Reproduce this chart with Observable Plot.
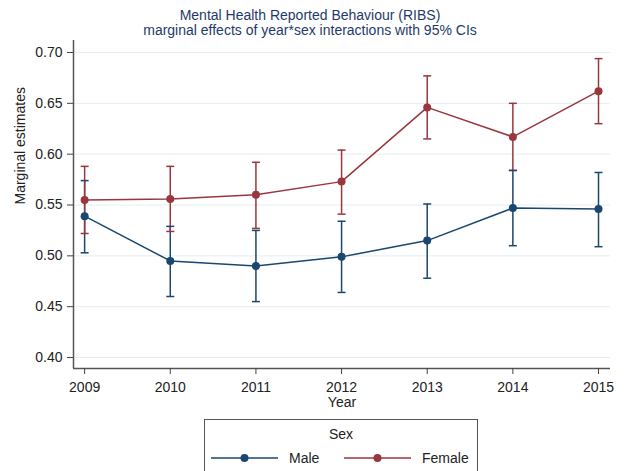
<!DOCTYPE html>
<html>
<head>
<meta charset="utf-8">
<script src="https://cdn.jsdelivr.net/npm/d3@7"></script>
<script src="https://cdn.jsdelivr.net/npm/@observablehq/plot@0.6"></script>
<style>
  html, body { margin: 0; padding: 0; background: #fff; }
  body { width: 628px; height: 471px; position: relative; overflow: hidden;
         font-family: "Liberation Sans", Arial, sans-serif; }
  #title { position: absolute; left: 0; top: 8px; width: 620px; text-align: center;
           color: #1f3a68; font-size: 14px; line-height: 15px; }
  #chart { position: absolute; left: 0; top: 40px; }
  #legend { position: absolute; left: 204px; top: 419px; width: 274px; height: 70px;
            border: 1px solid #555; box-sizing: border-box; color: #222; font-size: 14px; }
  #legend .ttl { position: absolute; left: 0; width: 100%; top: 6px; text-align: center; }
  #legend .item { position: absolute; top: 30px; display: flex; align-items: center; }
  #legend .item span { margin-left: 11px; }
</style>
</head>
<body>
<div id="title">Mental Health Reported Behaviour (RIBS)<br>marginal effects of year*sex interactions with 95% CIs</div>
<div id="chart"></div>
<div id="legend"></div>
<script>
const years = [2009, 2010, 2011, 2012, 2013, 2014, 2015];
const sexes = ["Male", "Female"];
const sexColors = ["#1a476f", "#9a363d"];

const maleEst = [0.539, 0.495, 0.490, 0.499, 0.515, 0.547, 0.546];
const maleLo  = [0.503, 0.460, 0.455, 0.464, 0.478, 0.510, 0.509];
const maleHi  = [0.574, 0.529, 0.525, 0.534, 0.551, 0.584, 0.582];

const femaleEst = [0.555, 0.556, 0.560, 0.573, 0.646, 0.617, 0.662];
const femaleLo  = [0.522, 0.524, 0.527, 0.541, 0.615, 0.584, 0.630];
const femaleHi  = [0.588, 0.588, 0.592, 0.604, 0.677, 0.650, 0.694];

const yTicks = [0.40, 0.45, 0.50, 0.55, 0.60, 0.65, 0.70];
const xDomain = [2008.87, 2015.14];
const yDomain = [0.3892, 0.7118];

const rows = [];
years.forEach((yr, i) => {
  rows.push({sex: "Male", year: yr, est: maleEst[i], lo: maleLo[i], hi: maleHi[i]});
});
years.forEach((yr, i) => {
  rows.push({sex: "Female", year: yr, est: femaleEst[i], lo: femaleLo[i], hi: femaleHi[i]});
});

const cap = {
  draw(context, size) {
    const w = Math.sqrt(size / Math.PI);
    context.moveTo(-w, 0);
    context.lineTo(w, 0);
  }
};

const chart = Plot.plot({
  width: 628,
  height: 372,
  marginLeft: 73,
  marginRight: 18,
  marginTop: 0,
  marginBottom: 44,
  style: {fontFamily: "Liberation Sans, Arial, sans-serif", fontSize: "14px", color: "#222", background: "#fff", overflow: "visible"},
  x: {domain: xDomain},
  y: {domain: yDomain},
  color: {domain: sexes, range: sexColors},
  marks: [
    Plot.ruleY(yTicks, {stroke: "#e4eef1", strokeWidth: 1}),
    Plot.ruleX([xDomain[0]], {stroke: "#555", strokeWidth: 1.5}),
    Plot.ruleY([yDomain[0]], {stroke: "#555", strokeWidth: 1.5}),
    Plot.axisY({ticks: yTicks, tickSize: 6, tickPadding: 5, tickFormat: d3.format(".2f"), label: null, fontSize: 14, stroke: "#444"}),
    Plot.axisX({ticks: years, tickSize: 6, tickPadding: 8, tickFormat: "d", label: null, fontSize: 14, stroke: "#444"}),
    Plot.text(["Marginal estimates"], {frameAnchor: "left", dx: -53, rotate: -90, fontSize: 14, fill: "#222"}),
    Plot.text(["Year"], {frameAnchor: "bottom", lineAnchor: "middle", dy: 34, fontSize: 14, fill: "#222"}),
    Plot.ruleX(rows, {x: "year", y1: "lo", y2: "hi", stroke: "sex", strokeWidth: 1.5}),
    Plot.dot(rows, {x: "year", y: "lo", symbol: cap, r: 4, stroke: "sex", fill: "none", strokeWidth: 1.5}),
    Plot.dot(rows, {x: "year", y: "hi", symbol: cap, r: 4, stroke: "sex", fill: "none", strokeWidth: 1.5}),
    Plot.line(rows, {x: "year", y: "est", stroke: "sex", z: "sex", strokeWidth: 1.5}),
    Plot.dot(rows, {x: "year", y: "est", fill: "sex", r: 4})
  ]
});
document.getElementById("chart").appendChild(chart);

// legend
const legend = document.getElementById("legend");
const ttl = document.createElement("div");
ttl.className = "ttl";
ttl.textContent = "Sex";
legend.appendChild(ttl);
const lefts = [6, 139];
sexes.forEach((s, i) => {
  const item = document.createElement("div");
  item.className = "item";
  item.style.left = lefts[i] + "px";
  const svg = d3.create("svg").attr("width", 67).attr("height", 12);
  svg.append("line").attr("x1", 0).attr("x2", 67).attr("y1", 6).attr("y2", 6)
    .attr("stroke", sexColors[i]).attr("stroke-width", 1.5);
  svg.append("circle").attr("cx", 33.5).attr("cy", 6).attr("r", 4).attr("fill", sexColors[i]);
  item.appendChild(svg.node());
  const lab = document.createElement("span");
  lab.textContent = s;
  item.appendChild(lab);
  legend.appendChild(item);
});
</script>
</body>
</html>
